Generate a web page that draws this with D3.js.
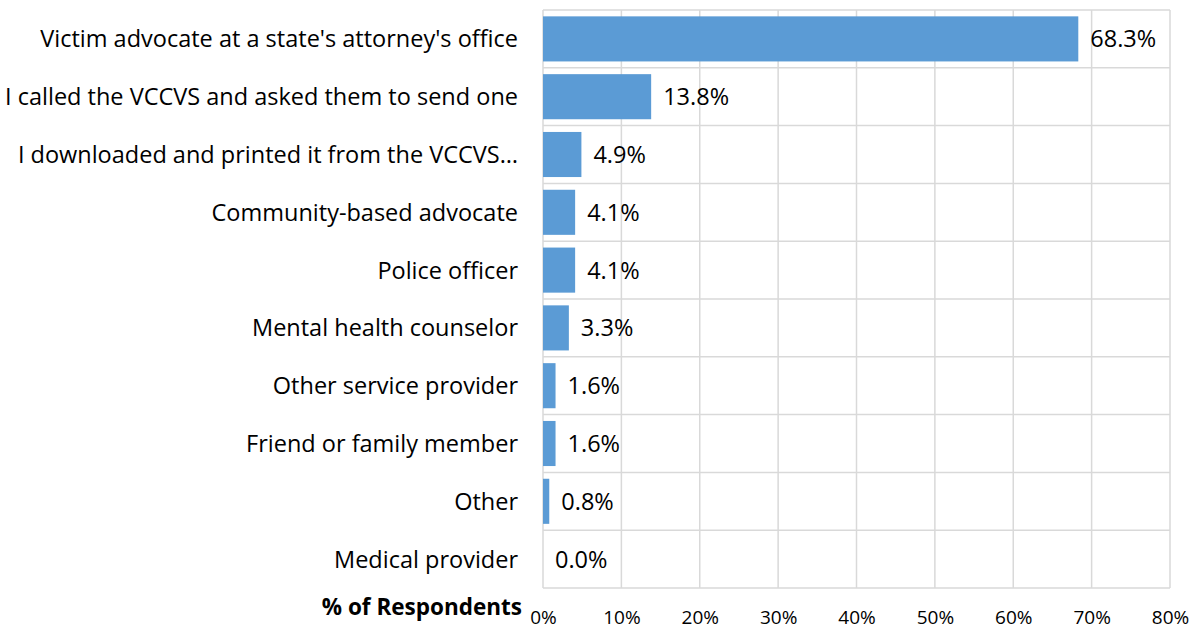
<!DOCTYPE html>
<html>
<head>
<meta charset="utf-8">
<script src="https://cdn.jsdelivr.net/npm/d3@7"></script>
<style>
  body { margin: 0; background: #fff; }
  text { font-family: "Open Sans", sans-serif; fill: #000; }
</style>
</head>
<body>
<div id="chart"></div>
<script>
var svgWidth = 1200;
var svgHeight = 631;

var margin = { top: 10, right: 30, bottom: 43, left: 543 };
var width = 1170 - margin.left;
var height = 588 - margin.top;

// data
var categories = [
  "Victim advocate at a state's attorney's office",
  "I called the VCCVS and asked them to send one",
  "I downloaded and printed it from the VCCVS…",
  "Community-based advocate",
  "Police officer",
  "Mental health counselor",
  "Other service provider",
  "Friend or family member",
  "Other",
  "Medical provider"
];
var values = [68.3, 13.8, 4.9, 4.1, 4.1, 3.3, 1.6, 1.6, 0.8, 0.0];
var xTicks = [0, 10, 20, 30, 40, 50, 60, 70, 80];

var svg = d3.select("#chart")
  .append("svg")
  .attr("width", svgWidth)
  .attr("height", svgHeight);

var chartGroup = svg.append("g")
  .attr("transform", `translate(${margin.left}, ${margin.top})`);

var xScale = d3.scaleLinear().domain([0, 80]).range([0, width]);
var yScale = d3.scaleBand().domain(categories).range([0, height]).paddingInner(0.22).paddingOuter(0.11);

// gridlines
var rowStep = height / categories.length;
chartGroup.selectAll(".hgrid")
  .data(d3.range(categories.length + 1))
  .enter()
  .append("line")
  .attr("x1", 0).attr("x2", width)
  .attr("y1", d => d * rowStep).attr("y2", d => d * rowStep)
  .attr("stroke", "#d9d9d9").attr("stroke-width", 1.5);

chartGroup.selectAll(".vgrid")
  .data(xTicks)
  .enter()
  .append("line")
  .attr("x1", d => xScale(d)).attr("x2", d => xScale(d))
  .attr("y1", 0).attr("y2", height)
  .attr("stroke", "#d9d9d9").attr("stroke-width", 1.5);

// bars
chartGroup.selectAll("rect")
  .data(values)
  .enter()
  .append("rect")
  .attr("x", xScale(0))
  .attr("y", (d, i) => yScale(categories[i]))
  .attr("width", d => xScale(d) - xScale(0))
  .attr("height", yScale.bandwidth())
  .attr("fill", "#5b9bd5");

// value labels
chartGroup.selectAll(".val")
  .data(values)
  .enter()
  .append("text")
  .attr("x", d => xScale(d) + 12)
  .attr("y", (d, i) => yScale(categories[i]) + yScale.bandwidth() / 2)
  .attr("dy", "0.36em")
  .style("font-size", "23.5px")
  .text(d => d.toFixed(1) + "%");

// category labels
chartGroup.selectAll(".cat")
  .data(categories)
  .enter()
  .append("text")
  .attr("x", -25)
  .attr("y", d => yScale(d) + yScale.bandwidth() / 2)
  .attr("dy", "0.36em")
  .attr("text-anchor", "end")
  .style("font-size", "23.5px")
  .text(d => d);

// x tick labels
var xAxis = d3.axisBottom(xScale)
  .tickValues(xTicks)
  .tickSize(0)
  .tickPadding(23)
  .tickFormat(d => d + "%");

chartGroup.append("g")
  .attr("transform", `translate(0, ${height})`)
  .call(xAxis)
  .call(g => g.select(".domain").remove())
  .selectAll("text")
  .style("font-size", "19px")
  .style("font-family", "'Open Sans', sans-serif")
  .attr("fill", "#000");

// axis title
chartGroup.append("text")
  .attr("x", -21)
  .attr("y", height + 27)
  .attr("text-anchor", "end")
  .style("font-size", "22.5px")
  .style("font-weight", "bold")
  .text("% of Respondents");
</script>
</body>
</html>
